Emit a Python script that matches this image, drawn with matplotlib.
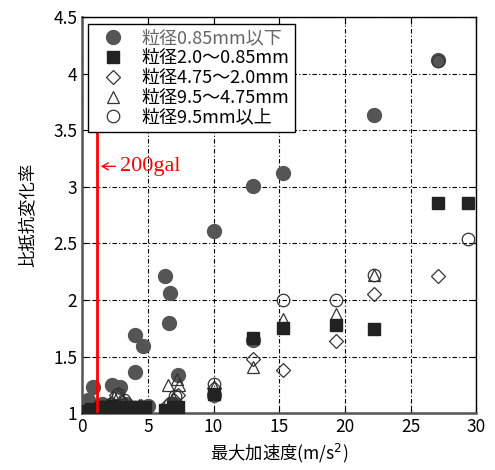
import numpy as np
import matplotlib
matplotlib.use("Agg")
import matplotlib.pyplot as plt

plt.rcParams['font.family'] = ['Noto Sans CJK JP', 'DejaVu Sans']

# 粒径0.85mm以下 (gray filled circles)
g_x = [0.3, 0.45, 0.8, 1.0, 1.5, 2.0, 2.3, 2.9, 3.3, 4.0, 4.0, 4.65, 5.0,
       6.3, 6.6, 6.7, 7.3, 7.0, 10.0, 10.0, 13.0, 13.0, 15.3, 22.2, 27.1]
g_y = [1.03, 1.12, 1.23, 1.05, 1.08, 1.06, 1.25, 1.23, 1.08, 1.36, 1.69, 1.59, 1.06,
       2.21, 1.80, 2.06, 1.34, 1.08, 2.61, 1.16, 3.01, 1.65, 3.12, 3.63, 4.12]
# 粒径2.0～0.85mm (black squares)
s_x = [0.1, 0.3, 0.5, 0.7, 0.9, 1.2, 1.4, 1.7, 2.0, 2.3, 2.6, 3.0, 3.3, 3.7, 4.2, 4.8,
       6.3, 6.6, 6.9, 7.3, 10.0, 13.0, 15.3, 19.3, 22.2, 27.1, 29.4]
s_y = [1.01, 1.02, 1.00, 1.04, 1.02, 1.01, 1.05, 1.03, 1.02, 1.06, 1.04, 1.03, 1.05, 1.04, 1.05, 1.05,
       1.03, 1.02, 1.05, 1.05, 1.17, 1.66, 1.75, 1.78, 1.74, 2.86, 2.86]
# 粒径4.75～2.0mm (open diamonds)
d_x = [0.4, 0.9, 1.5, 2.1, 2.6, 3.0, 3.7, 4.5, 6.5, 7.0, 7.3, 10.0, 13.0, 15.3, 19.3, 22.2, 27.1]
d_y = [1.02, 1.03, 1.05, 1.08, 1.16, 1.10, 1.05, 1.06, 1.08, 1.12, 1.16, 1.22, 1.48, 1.38, 1.64, 2.05, 2.21]
# 粒径9.5～4.75mm (open triangles)
t_x = [0.5, 1.0, 1.8, 2.4, 2.8, 3.3, 4.3, 6.5, 6.9, 7.4, 7.2, 10.0, 13.0, 15.3, 19.3, 22.2]
t_y = [1.02, 1.04, 1.06, 1.14, 1.18, 1.08, 1.07, 1.25, 1.13, 1.25, 1.30, 1.23, 1.41, 1.83, 1.88, 2.22]
# 粒径9.5mm以上 (open circles)
c_x = [0.6, 1.3, 2.2, 2.7, 3.2, 4.0, 6.7, 7.1, 10.0, 15.3, 19.3, 22.2, 27.1, 29.4]
c_y = [1.03, 1.05, 1.08, 1.17, 1.12, 1.05, 1.08, 1.15, 1.26, 2.00, 2.00, 2.22, 4.11, 2.54]

labels = ["粒径0.85mm以下", "粒径2.0～0.85mm", "粒径4.75～2.0mm", "粒径9.5～4.75mm", "粒径9.5mm以上"]

fig = plt.figure(figsize=(4.95, 4.7), dpi=100)
ax = fig.add_axes([0.166, 0.121, 0.796, 0.843])

ax.plot(g_x, g_y, "o", ms=10, color="#555555", mec="#555555", ls="none", label=labels[0], zorder=3)
ax.plot(s_x, s_y, "s", ms=8.5, color="#222222", mec="#222222", ls="none", label=labels[1], zorder=7)
ax.plot(d_x, d_y, "D", ms=7, mfc="none", mec="#333333", mew=0.9, ls="none", label=labels[2], zorder=4)
ax.plot(t_x, t_y, "^", ms=9, mfc="none", mec="#333333", mew=0.9, ls="none", label=labels[3], zorder=5)
ax.plot(c_x, c_y, "o", ms=9, mfc="none", mec="#333333", mew=0.9, ls="none", label=labels[4], zorder=6)

ax.plot([1.1, 1.1], [1.02, 3.5], color="red", lw=2, zorder=8)
ax.annotate("", xy=(1.2, 3.18), xytext=(2.75, 3.18),
            arrowprops=dict(arrowstyle="->,head_length=0.45,head_width=0.25", color="red", lw=1.0),
            zorder=8)
ax.text(2.85, 3.18, "200gal", color="red", fontsize=16, va="center",
        family=["Liberation Serif", "DejaVu Serif"], zorder=8)

ax.set_xlim(0, 30); ax.set_ylim(1, 4.5)
ax.set_xticks(np.arange(0, 31, 5))
ax.set_yticks(np.arange(1, 4.51, 0.5))
ax.set_yticklabels(["1", "1.5", "2", "2.5", "3", "3.5", "4", "4.5"])
ax.grid(True, color="black", lw=0.8, ls=(0, (4, 2, 1, 2)))
ax.tick_params(direction="in", top=True, right=True, labelsize=12.5, length=5)
for s in ("left", "bottom"):
    ax.spines[s].set_color("#555555"); ax.spines[s].set_linewidth(1.8)
for s in ("top", "right"):
    ax.spines[s].set_color("black"); ax.spines[s].set_linewidth(1.0)

ax.set_xlabel("最大加速度(m/s$^2$)", fontsize=12.5, labelpad=4)
ax.set_ylabel("比抵抗変化率", fontsize=12.5, labelpad=12)

leg = ax.legend(loc="upper left", bbox_to_anchor=(0.014, 0.982), fontsize=13,
                frameon=True, fancybox=False, edgecolor="black", framealpha=1,
                borderpad=0.3, labelspacing=0.1, handletextpad=0.5, handlelength=2.2,
                borderaxespad=0)
leg.get_frame().set_linewidth(1.0)
leg.set_zorder(10)
leg.get_texts()[0].set_color("#666666")

fig.savefig("out.png", dpi=100)
